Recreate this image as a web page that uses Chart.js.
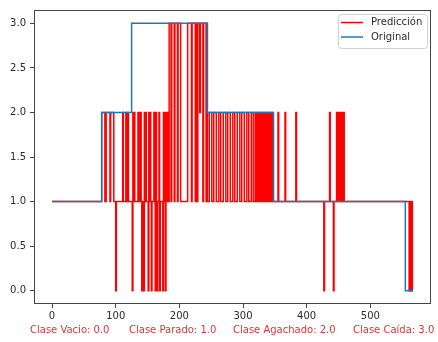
<!DOCTYPE html>
<html><head><meta charset="utf-8">
<script src="https://cdn.jsdelivr.net/npm/chart.js@4/dist/chart.umd.min.js"></script>
<style>html,body{margin:0;padding:0;background:#fff;} #wrap{position:relative;width:438px;height:342px;}</style>
</head><body><div id="wrap"><canvas id="c" width="438" height="342"></canvas></div>
<script>
// ---- data ----
const seriesNames = ['Predicción', 'Original'];
const xTickValues = [0, 100, 200, 300, 400, 500];
const yTickValues = [0, 0.5, 1, 1.5, 2, 2.5, 3];
const classLabels = ['Clase Vacio: 0.0', 'Clase Parado: 1.0', 'Clase Agachado: 2.0', 'Clase Caída: 3.0'];
const lastSample = 567;

// "Original": value holds from each start sample until the next one
const originalStart = [0, 78, 125, 244, 348, 555];
const originalValue = [1, 2, 3, 2, 1, 0];

// "Predicción": value holds from each start sample until the next one
const predictedStart = [
  0, 78, 83, 85, 91, 92, 97, 100, 101, 111, 112, 116, 117, 119, 120,
  126, 127, 128, 129, 130, 135, 136, 137, 138, 139, 140, 141, 142, 144, 145, 146, 147, 148,
  151, 152, 153, 154, 155, 156, 157, 160, 161, 162, 163, 164, 165, 166, 168, 169, 170,
  174, 175, 176, 177, 178, 179, 180, 181, 182, 183,
  184, 187, 188, 192, 193, 197, 198, 202, 213, 219, 220, 225, 226, 228, 229, 232, 233, 237, 238, 242, 243,
  244, 247, 251, 254, 258, 262, 265, 269, 273, 276, 280, 284, 287, 291, 295, 298, 302, 306, 309, 313, 316, 319, 321,
  322, 323, 324, 325, 326, 327, 328, 329, 330, 331, 332, 333, 334, 335, 336, 337, 338, 339, 340, 341, 342, 343, 344, 345, 346, 347,
  355, 356, 366, 367, 383, 384, 427, 428, 436, 437, 442, 443, 447, 448, 449, 451, 452, 454, 455, 456, 457, 459,
  561, 562, 563, 564, 565, 566
];
const predictedValue = [
  1, 2, 1, 2, 1, 2, 1, 0, 1, 2, 1, 2, 1, 2, 1,
  0, 2, 1, 2, 1, 2, 1, 2, 1, 2, 1, 0, 1, 0, 2, 1, 2, 1,
  0, 2, 1, 2, 1, 0, 1, 2, 1, 0, 2, 1, 0, 1, 2, 0, 1,
  0, 2, 1, 2, 0, 1, 2, 1, 2, 1,
  3, 1, 3, 1, 3, 1, 3, 1, 3, 1, 3, 1, 3, 1, 3, 2, 3, 1, 3, 1, 3,
  1, 2, 1, 2, 1, 2, 1, 2, 1, 2, 1, 2, 1, 2, 1, 2, 1, 2, 1, 2, 1, 2, 1,
  2, 1, 2, 1, 2, 1, 2, 1, 2, 1, 2, 1, 2, 1, 2, 1, 2, 1, 2, 1, 2, 1, 2, 1, 2, 1,
  2, 1, 2, 1, 2, 1, 0, 1, 2, 1, 0, 1, 2, 1, 2, 1, 2, 1, 2, 1, 2, 1,
  0, 1, 0, 1, 0, 1
];

// ---- build step series from the run tables ----
function stepPoints(starts, values) {
  const pts = starts.map((s, i) => ({ x: s, y: values[i] }));
  pts.push({ x: lastSample, y: values[values.length - 1] });
  return pts;
}

const FONT = { family: 'DejaVu Sans', size: 10 };
const AXIS_COLOR = '#444';
const TEXT_COLOR = '#2a2a2a';
const RED = '#ff0000';
const BLUE = '#1f77b4';

const framePlugin = {
  id: 'frame',
  afterDatasetsDraw(chart) {
    const { ctx, chartArea: a } = chart;
    ctx.save();
    ctx.strokeStyle = AXIS_COLOR;
    ctx.lineWidth = 1;
    ctx.strokeRect(Math.round(a.left) + 0.5, Math.round(a.top) + 0.5,
                   Math.round(a.right - a.left) - 1, Math.round(a.bottom - a.top) - 1);
    ctx.restore();
  },
  afterDraw(chart) {
    const { ctx } = chart;
    ctx.save();
    // legend box (top right, inside plot)
    ctx.beginPath();
    ctx.roundRect(338.5, 14.5, 89, 34, 3);
    ctx.fillStyle = 'rgba(255,255,255,0.85)';
    ctx.fill();
    ctx.strokeStyle = '#d0d0d0';
    ctx.lineWidth = 1;
    ctx.stroke();
    const rows = [[RED, 22.5], [BLUE, 37]];
    ctx.font = '10px "DejaVu Sans"';
    ctx.textBaseline = 'middle';
    ctx.textAlign = 'left';
    rows.forEach((r, i) => {
      ctx.strokeStyle = r[0];
      ctx.lineWidth = 1.5;
      ctx.beginPath();
      ctx.moveTo(341, r[1]);
      ctx.lineTo(363, r[1]);
      ctx.stroke();
      ctx.fillStyle = TEXT_COLOR;
      ctx.fillText(seriesNames[i], 371, r[1]);
    });
    // class captions under the x axis
    const xs = [30, 129, 233, 353];
    ctx.fillStyle = 'rgb(222,52,52)';
    classLabels.forEach((t, i) => ctx.fillText(t, xs[i], 330));
    ctx.restore();
  }
};

new Chart(document.getElementById('c'), {
  type: 'line',
  data: {
    datasets: [
      {
        label: seriesNames[0],
        data: stepPoints(predictedStart, predictedValue),
        borderColor: RED, borderWidth: 1.5, stepped: true,
        pointRadius: 0, fill: false, order: 2
      },
      {
        label: seriesNames[1],
        data: stepPoints(originalStart, originalValue),
        borderColor: BLUE, borderWidth: 1.5, stepped: true,
        pointRadius: 0, fill: false, order: 1
      }
    ]
  },
  options: {
    responsive: false,
    animation: false,
    layout: { padding: { top: 9, right: 7, left: 0, bottom: 0 } },
    plugins: { legend: { display: false }, tooltip: { enabled: false } },
    scales: {
      x: {
        type: 'linear', min: -28.35, max: 595.35,
        afterBuildTicks: s => { s.ticks = xTickValues.map(v => ({ value: v })); },
        afterFit: s => { s.height = 38; },
        ticks: { font: FONT, color: TEXT_COLOR, padding: 2, maxRotation: 0, autoSkip: false,
                 callback: v => String(v) },
        grid: { drawOnChartArea: false, drawTicks: true, tickLength: 4, color: AXIS_COLOR },
        border: { display: false }
      },
      y: {
        type: 'linear', min: -0.15, max: 3.15,
        afterBuildTicks: s => { s.ticks = yTickValues.map(v => ({ value: v })); },
        afterFit: s => { s.width = 34; },
        ticks: { font: FONT, color: TEXT_COLOR, padding: 4, autoSkip: false,
                 callback: v => Number(v).toFixed(1) },
        grid: { drawOnChartArea: false, drawTicks: true, tickLength: 4, color: AXIS_COLOR },
        border: { display: false }
      }
    }
  },
  plugins: [framePlugin]
});
</script></body></html>
